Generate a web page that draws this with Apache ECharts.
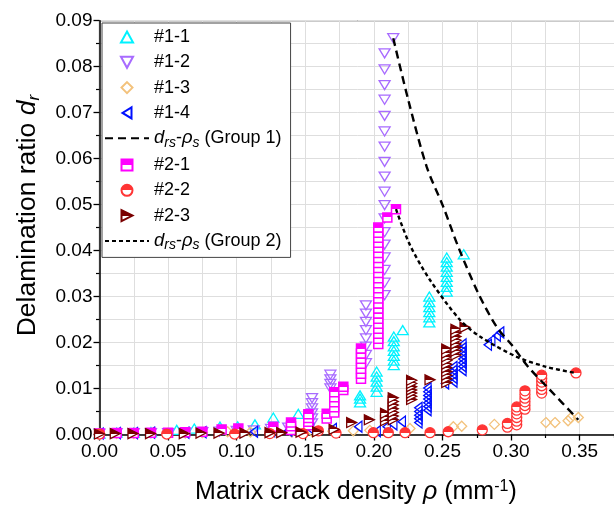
<!DOCTYPE html>
<html>
<head>
<meta charset="utf-8">
<script src="https://cdn.jsdelivr.net/npm/echarts@6/dist/echarts.min.js"></script>
<style>
  html, body { margin: 0; padding: 0; background: #fff; }
  #chart { width: 614px; height: 512px; }
</style>
</head>
<body>
<div id="chart"></div>
<script>
// Delamination ratio d_r versus matrix crack density rho, specimens of groups 1 and 2.
// Each point is [rho (mm^-1), d_r].

const spec11 = [
  [0.000, 0.0002], [0.0125, 0.0004], [0.025, 0.0004], [0.0375, 0.0005], [0.0563, 0.0010],
  [0.0691, 0.0013], [0.0878, 0.0017], [0.1007, 0.0018], [0.1133, 0.0022], [0.1267, 0.0037],
  [0.1449, 0.0045],
  [0.1899, 0.0070], [0.1899, 0.0078], [0.1899, 0.0085],
  [0.2020, 0.0093], [0.2020, 0.0104], [0.2020, 0.0115], [0.2020, 0.0126], [0.2020, 0.0137],
  [0.2145, 0.0151], [0.2145, 0.0161], [0.2145, 0.0171], [0.2145, 0.0182], [0.2145, 0.0192],
  [0.2145, 0.0203], [0.2145, 0.0213],
  [0.2210, 0.0227],
  [0.2404, 0.0244], [0.2404, 0.0255], [0.2404, 0.0266], [0.2404, 0.0277], [0.2404, 0.0288],
  [0.2404, 0.0300],
  [0.2531, 0.0311], [0.2531, 0.0321], [0.2531, 0.0332], [0.2531, 0.0343], [0.2531, 0.0354],
  [0.2531, 0.0365], [0.2531, 0.0375], [0.2531, 0.0385],
  [0.2655, 0.0392]
];

const spec12 = [
  [0.000, 0.0002], [0.0125, 0.0003], [0.025, 0.0003], [0.0375, 0.0003], [0.050, 0.0003],
  [0.0625, 0.0004], [0.075, 0.0005], [0.0875, 0.0006], [0.100, 0.0008], [0.1125, 0.0009],
  [0.125, 0.0012], [0.1375, 0.0015],
  [0.1549, 0.0024], [0.1549, 0.0035], [0.1549, 0.0046], [0.1549, 0.0057], [0.1549, 0.0068],
  [0.1549, 0.0079],
  [0.1683, 0.0100], [0.1683, 0.0110], [0.1683, 0.0120], [0.1683, 0.0130],
  [0.1942, 0.0155], [0.1942, 0.0173], [0.1942, 0.0191], [0.1942, 0.0209], [0.1942, 0.0227],
  [0.1942, 0.0245], [0.1942, 0.0263], [0.1942, 0.0281],
  [0.2078, 0.0303], [0.2078, 0.0330], [0.2078, 0.0358], [0.2078, 0.0385], [0.2078, 0.0413],
  [0.2078, 0.0440], [0.2078, 0.0470], [0.2078, 0.0499], [0.2078, 0.0528], [0.2078, 0.0561],
  [0.2078, 0.0593], [0.2078, 0.0626], [0.2078, 0.0659], [0.2078, 0.0693], [0.2078, 0.0728],
  [0.2078, 0.0760], [0.2078, 0.0794], [0.2078, 0.0829],
  [0.2141, 0.0862]
];

const spec13 = [
  [0.000, 0.0001], [0.0125, 0.0002], [0.025, 0.0002], [0.050, 0.0003], [0.0625, 0.0003],
  [0.075, 0.0004], [0.0934, 0.0006], [0.110, 0.0005], [0.125, 0.0006], [0.140, 0.0005],
  [0.155, 0.0006], [0.170, 0.0007], [0.185, 0.0008], [0.197, 0.0009],
  [0.2263, 0.0013], [0.2579, 0.0017], [0.2640, 0.0018], [0.2878, 0.0022],
  [0.3254, 0.0026], [0.3320, 0.0026], [0.3415, 0.0030], [0.3435, 0.0036], [0.3490, 0.0037]
];

const spec14 = [
  [0.000, 0.0002], [0.0125, 0.0003], [0.025, 0.0003], [0.0375, 0.0004], [0.0625, 0.0004],
  [0.075, 0.0005], [0.100, 0.0006], [0.1125, 0.0006], [0.125, 0.0007], [0.1375, 0.0008],
  [0.1534, 0.0013], [0.170, 0.0012], [0.1886, 0.0017], [0.2020, 0.0007], [0.2093, 0.0017],
  [0.2141, 0.0022], [0.2203, 0.0028],
  [0.2324, 0.0026], [0.2324, 0.0034], [0.2324, 0.0042], [0.2324, 0.0050], [0.2324, 0.0058],
  [0.2390, 0.0053], [0.2390, 0.0061], [0.2390, 0.0069], [0.2390, 0.0077], [0.2390, 0.0085],
  [0.2390, 0.0093], [0.2390, 0.0101],
  [0.2518, 0.0111],
  [0.2579, 0.0115], [0.2579, 0.0123], [0.2579, 0.0131], [0.2579, 0.0139], [0.2579, 0.0147],
  [0.2645, 0.0140], [0.2645, 0.0148], [0.2645, 0.0156], [0.2645, 0.0164], [0.2645, 0.0172],
  [0.2645, 0.0180], [0.2645, 0.0188], [0.2645, 0.0196],
  [0.2830, 0.0195], [0.2855, 0.0205], [0.2895, 0.0215], [0.2920, 0.0222]
];

const spec21 = [
  [0.000, 0.0002], [0.0125, 0.0003], [0.025, 0.0003], [0.0375, 0.0004], [0.050, 0.0004],
  [0.0625, 0.0005], [0.075, 0.0006], [0.0890, 0.0011], [0.1012, 0.0013], [0.1267, 0.0017],
  [0.1396, 0.0010], [0.1396, 0.0018], [0.1396, 0.0026],
  [0.1522, 0.0020], [0.1522, 0.0028], [0.1522, 0.0036], [0.1522, 0.0044],
  [0.1656, 0.0035], [0.1656, 0.0045],
  [0.1711, 0.0048], [0.1711, 0.0059], [0.1711, 0.0070], [0.1711, 0.0081], [0.1711, 0.0092],
  [0.1777, 0.0097], [0.1777, 0.0104],
  [0.1906, 0.0121], [0.1906, 0.0132], [0.1906, 0.0143], [0.1906, 0.0154], [0.1906, 0.0165],
  [0.1906, 0.0176], [0.1906, 0.0187],
  [0.2032, 0.0197], [0.2032, 0.0208], [0.2032, 0.0219], [0.2032, 0.0230], [0.2032, 0.0241],
  [0.2032, 0.0252], [0.2032, 0.0263], [0.2032, 0.0274], [0.2032, 0.0285], [0.2032, 0.0296],
  [0.2032, 0.0307], [0.2032, 0.0318], [0.2032, 0.0329], [0.2032, 0.0340], [0.2032, 0.0351],
  [0.2032, 0.0362], [0.2032, 0.0373], [0.2032, 0.0384], [0.2032, 0.0395], [0.2032, 0.0406],
  [0.2032, 0.0417], [0.2032, 0.0428], [0.2032, 0.0439], [0.2032, 0.0450],
  [0.2098, 0.0472], [0.2161, 0.0490]
];

const spec22 = [
  [0.000, 0.0001], [0.0490, 0.0001], [0.0985, 0.0001], [0.1241, 0.0002], [0.1483, 0.0002],
  [0.1595, 0.0008], [0.1724, 0.0003], [0.1996, 0.0004], [0.2105, 0.0004], [0.2227, 0.0004],
  [0.2409, 0.0004], [0.2542, 0.0006], [0.2790, 0.0010],
  [0.2973, 0.0016], [0.2973, 0.0024],
  [0.3041, 0.0021], [0.3041, 0.0029], [0.3041, 0.0037], [0.3041, 0.0045], [0.3041, 0.0053],
  [0.3041, 0.0060],
  [0.3101, 0.0055], [0.3101, 0.0063], [0.3101, 0.0071], [0.3101, 0.0079], [0.3101, 0.0087],
  [0.3101, 0.0095],
  [0.3223, 0.0090], [0.3223, 0.0098], [0.3223, 0.0106], [0.3223, 0.0114], [0.3223, 0.0122],
  [0.3223, 0.0129],
  [0.3473, 0.0134]
];

const spec23 = [
  [0.000, 0.0001], [0.0115, 0.0002], [0.0244, 0.0002], [0.0372, 0.0002], [0.0618, 0.0002],
  [0.0740, 0.0003], [0.0871, 0.0003], [0.1060, 0.0003], [0.1243, 0.0004], [0.1328, 0.0004],
  [0.1469, 0.0005], [0.1590, 0.0006], [0.1710, 0.0011],
  [0.1838, 0.0026], [0.1967, 0.0032],
  [0.2085, 0.0030], [0.2085, 0.0038], [0.2085, 0.0046],
  [0.2141, 0.0032], [0.2141, 0.0040], [0.2141, 0.0048], [0.2141, 0.0056], [0.2141, 0.0064],
  [0.2141, 0.0072], [0.2141, 0.0080],
  [0.2275, 0.0076], [0.2275, 0.0083], [0.2275, 0.0090], [0.2275, 0.0097], [0.2275, 0.0104],
  [0.2275, 0.0111], [0.2275, 0.0118],
  [0.2409, 0.0119],
  [0.2531, 0.0113], [0.2531, 0.0121], [0.2531, 0.0129], [0.2531, 0.0137], [0.2531, 0.0145],
  [0.2531, 0.0153], [0.2531, 0.0161], [0.2531, 0.0169], [0.2531, 0.0177], [0.2531, 0.0186],
  [0.2598, 0.0173], [0.2598, 0.0181], [0.2598, 0.0189], [0.2598, 0.0197], [0.2598, 0.0205],
  [0.2598, 0.0213], [0.2598, 0.0221], [0.2598, 0.0229],
  [0.2664, 0.0233]
];

// d_rs - rho_s relations
const fitGroup1 = [
  [0.2141, 0.0862], [0.2251, 0.0727], [0.2385, 0.0582], [0.2506, 0.0495], [0.2615, 0.0408],
  [0.2761, 0.0307], [0.2895, 0.0234], [0.3004, 0.0195], [0.3125, 0.0147], [0.3283, 0.0097],
  [0.3490, 0.0032]
];
const fitGroup2 = [
  [0.2161, 0.0490], [0.2263, 0.0412], [0.2409, 0.0336], [0.2628, 0.0249], [0.2773, 0.0213],
  [0.3041, 0.0169], [0.3259, 0.0147], [0.3466, 0.0134]
];

const FONT = '"Liberation Sans", Arial, Helvetica, sans-serif';

// top half coloured, bottom half white
function halfFill(c) {
  return {
    type: 'linear', x: 0, y: 0, x2: 0, y2: 1,
    colorStops: [
      { offset: 0, color: c }, { offset: 0.5, color: c },
      { offset: 0.5, color: '#ffffff' }, { offset: 1, color: '#ffffff' }
    ]
  };
}

function scatter(name, data, symbol, size, fill, stroke, bw) {
  return {
    name, type: 'scatter', data, symbol, symbolSize: size,
    symbolKeepAspect: true,
    itemStyle: { color: fill, borderColor: stroke, borderWidth: bw, opacity: 1 },
    emphasis: { disabled: true },
    clip: false
  };
}

function fitLine(name, data, dash) {
  return {
    name, type: 'line', data, smooth: 0.3, symbol: 'none',
    itemStyle: { color: 'rgba(0,0,0,0)', borderWidth: 0 },
    lineStyle: { color: '#000', width: 2.4, type: dash },
    emphasis: { disabled: true }
  };
}

const CLEAR = 'rgba(255,255,255,0)';
const FIT1 = 'drs-ps (Group 1)';
const FIT2 = 'drs-ps (Group 2)';

const series = [
  scatter('#1-1', spec11, 'path://M5.5,0L11,10L0,10Z', [11, 10], CLEAR, '#00f2ff', 1.3),
  scatter('#1-2', spec12, 'path://M0,0L11,0L5.5,10Z', [11, 10], CLEAR, '#a86bff', 1.3),
  scatter('#1-3', spec13, 'path://M5,0L10,5L5,10L0,5Z', [10, 10], CLEAR, '#f3c27c', 1.3),
  scatter('#1-4', spec14, 'path://M9,0L0,5.5L9,11Z', [9, 11], CLEAR, '#0010ff', 1.3),
  fitLine(FIT1, fitGroup1, [8, 5]),
  scatter('#2-1', spec21, 'path://M0,0L10,0L10,10L0,10Z', [9, 9], halfFill('#ff00ff'), '#ff00ff', 1.5),
  scatter('#2-2', spec22, 'circle', [10, 10], halfFill('#ff3535'), '#ff3535', 1.3),
  scatter('#2-3', spec23, 'path://M0,0L10,5L0,10Z', [10, 10], halfFill('#7a0000'), '#7a0000', 1.3),
  fitLine(FIT2, fitGroup2, [4, 3])
];

const GRID = '#dedede';

function axisCommon() {
  return {
    axisLine: { show: true, onZero: false, lineStyle: { color: '#000', width: 1.5 } },
    axisTick: { show: true, length: 6, lineStyle: { color: '#000', width: 1.3 } },
    minorTick: { show: true, splitNumber: 2, length: 3.5, lineStyle: { color: '#000', width: 1.2 } },
    splitLine: { show: true, lineStyle: { color: GRID, width: 1 } },
    minorSplitLine: { show: true, lineStyle: { color: GRID, width: 1 } }
  };
}

const option = {
  backgroundColor: '#fff',
  animation: false,
  textStyle: { fontFamily: FONT },
  grid: {
    left: 99.5, top: 20.7, width: 548.8, height: 413.8,
    outerBoundsMode: 'none', containLabel: false,
    show: true, borderColor: '#333', borderWidth: 1.2, backgroundColor: 'transparent'
  },
  legend: {
    orient: 'vertical', left: 102, top: 23,
    padding: [4, 9, 5, 2],
    itemWidth: 44, itemHeight: 11, itemGap: 5.3,
    borderColor: '#444', borderWidth: 1, backgroundColor: '#fff',
    inactiveColor: '#000',
    data: ['#1-1', '#1-2', '#1-3', '#1-4', FIT1, '#2-1', '#2-2', '#2-3', FIT2],
    formatter: function (name) {
      if (name === FIT1) return '{it|d}{sub|rs}-{it|\u03c1}{sub|s} (Group 1)';
      if (name === FIT2) return '{it|d}{sub|rs}-{it|\u03c1}{sub|s} (Group 2)';
      return name;
    },
    textStyle: {
      fontFamily: FONT, fontSize: 18, color: '#000', lineHeight: 20,
      rich: {
        it: { fontFamily: FONT, fontSize: 18.5, fontStyle: 'italic', color: '#000' },
        sub: { fontFamily: FONT, fontSize: 14, fontStyle: 'italic', color: '#000', padding: [9, 0, 0, 0] }
      }
    }
  },
  xAxis: Object.assign(axisCommon(), {
    type: 'value', min: 0, max: 0.4, interval: 0.05,
    name: 'Matrix crack density {it|\u03c1} (mm{sup|-1})',
    nameLocation: 'middle', nameGap: 44,
    nameTextStyle: {
      fontFamily: FONT, fontSize: 25, color: '#000', padding: [0, 36, 0, 0],
      rich: {
        it: { fontFamily: FONT, fontSize: 25, fontStyle: 'italic', color: '#000' },
        sup: { fontFamily: FONT, fontSize: 16, color: '#000', padding: [0, 0, 12, 0] }
      }
    },
    axisLabel: {
      fontFamily: FONT, fontSize: 19, color: '#000', margin: 8,
      formatter: v => v.toFixed(2)
    }
  }),
  yAxis: Object.assign(axisCommon(), {
    type: 'value', min: 0, max: 0.09, interval: 0.01,
    name: 'Delamination ratio {it|d}{sub|r}',
    nameLocation: 'middle', nameGap: 57,
    nameTextStyle: {
      fontFamily: FONT, fontSize: 26.5, color: '#000', padding: [0, 0, 0, 24],
      rich: {
        it: { fontFamily: FONT, fontSize: 26.5, fontStyle: 'italic', color: '#000' },
        sub: { fontFamily: FONT, fontSize: 17, fontStyle: 'italic', color: '#000', padding: [12, 0, 0, 0] }
      }
    },
    axisLabel: {
      fontFamily: FONT, fontSize: 19, color: '#000', margin: 7,
      formatter: v => v.toFixed(2)
    }
  }),
  series
};

const chart = echarts.init(document.getElementById('chart'), null, { renderer: 'canvas' });
chart.setOption(option);
</script>
</body>
</html>
